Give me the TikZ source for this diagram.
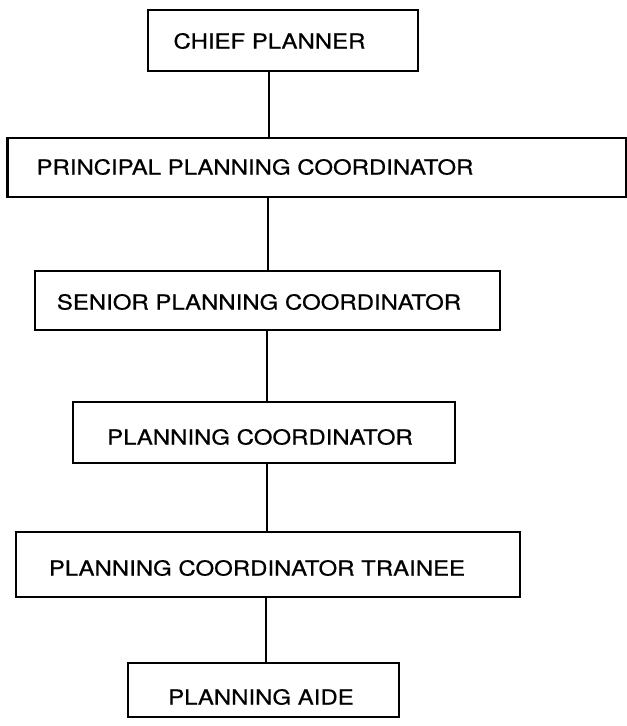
\documentclass[tikz,border=0pt]{standalone}
\usepackage{fontspec}
\setmainfont{TeX Gyre Heros}[FakeStretch=1.16,FakeBold=0.6]
\begin{document}
\begin{tikzpicture}[x=0.75pt,y=-0.75pt,
  box/.style={draw=black, line width=1.9pt, rectangle, inner sep=0pt},
  lbl/.style={inner sep=0pt, font=\fontsize{15.5}{18}\selectfont},
  conn/.style={draw=black, line width=1pt}]
\useasboundingbox (0,0) rectangle (627,726);
% boxes
\node[box, minimum width=270*0.75pt, minimum height=61*0.75pt] (chief) at (283,40.5) {};
\node[box, minimum width=619*0.75pt, minimum height=59*0.75pt] (princ) at (317,167.5) {};
\node[box, minimum width=465*0.75pt, minimum height=59*0.75pt] (senior) at (267.5,300.5) {};
\node[box, minimum width=382*0.75pt, minimum height=61*0.75pt] (coord) at (264,432.5) {};
\node[box, minimum width=504*0.75pt, minimum height=65*0.75pt] (trainee) at (268,564.5) {};
\node[box, minimum width=271*0.75pt, minimum height=54*0.75pt] (aide) at (263.5,690) {};
% labels
\node[lbl] (tchief) at (269.5,41) {CHIEF PLANNER};
\node[lbl] (tprinc) at (255,167) {PRINCIPAL PLANNING COORDINATOR};
\node[lbl] (tsenior) at (259,302) {SENIOR PLANNING COORDINATOR};
\node[lbl] (tcoord) at (260,437) {PLANNING COORDINATOR};
\node[lbl] (ttrainee) at (257,568) {PLANNING COORDINATOR TRAINEE};
\node[lbl] (taide) at (261,697) {PLANNING AIDE};
% connector columns
\coordinate (xa) at (269,0);
\coordinate (xb) at (268,0);
\coordinate (xc) at (267,0);
\coordinate (xd) at (266,0);
\draw[conn] (chief.south -| xa) -- (princ.north -| xa);
\draw[conn] (princ.south -| xb) -- (senior.north -| xb);
\draw[conn] (senior.south -| xc) -- (coord.north -| xc);
\draw[conn] (coord.south -| xc) -- (trainee.north -| xc);
\draw[conn] (trainee.south -| xd) -- (aide.north -| xd);
\end{tikzpicture}
\end{document}
